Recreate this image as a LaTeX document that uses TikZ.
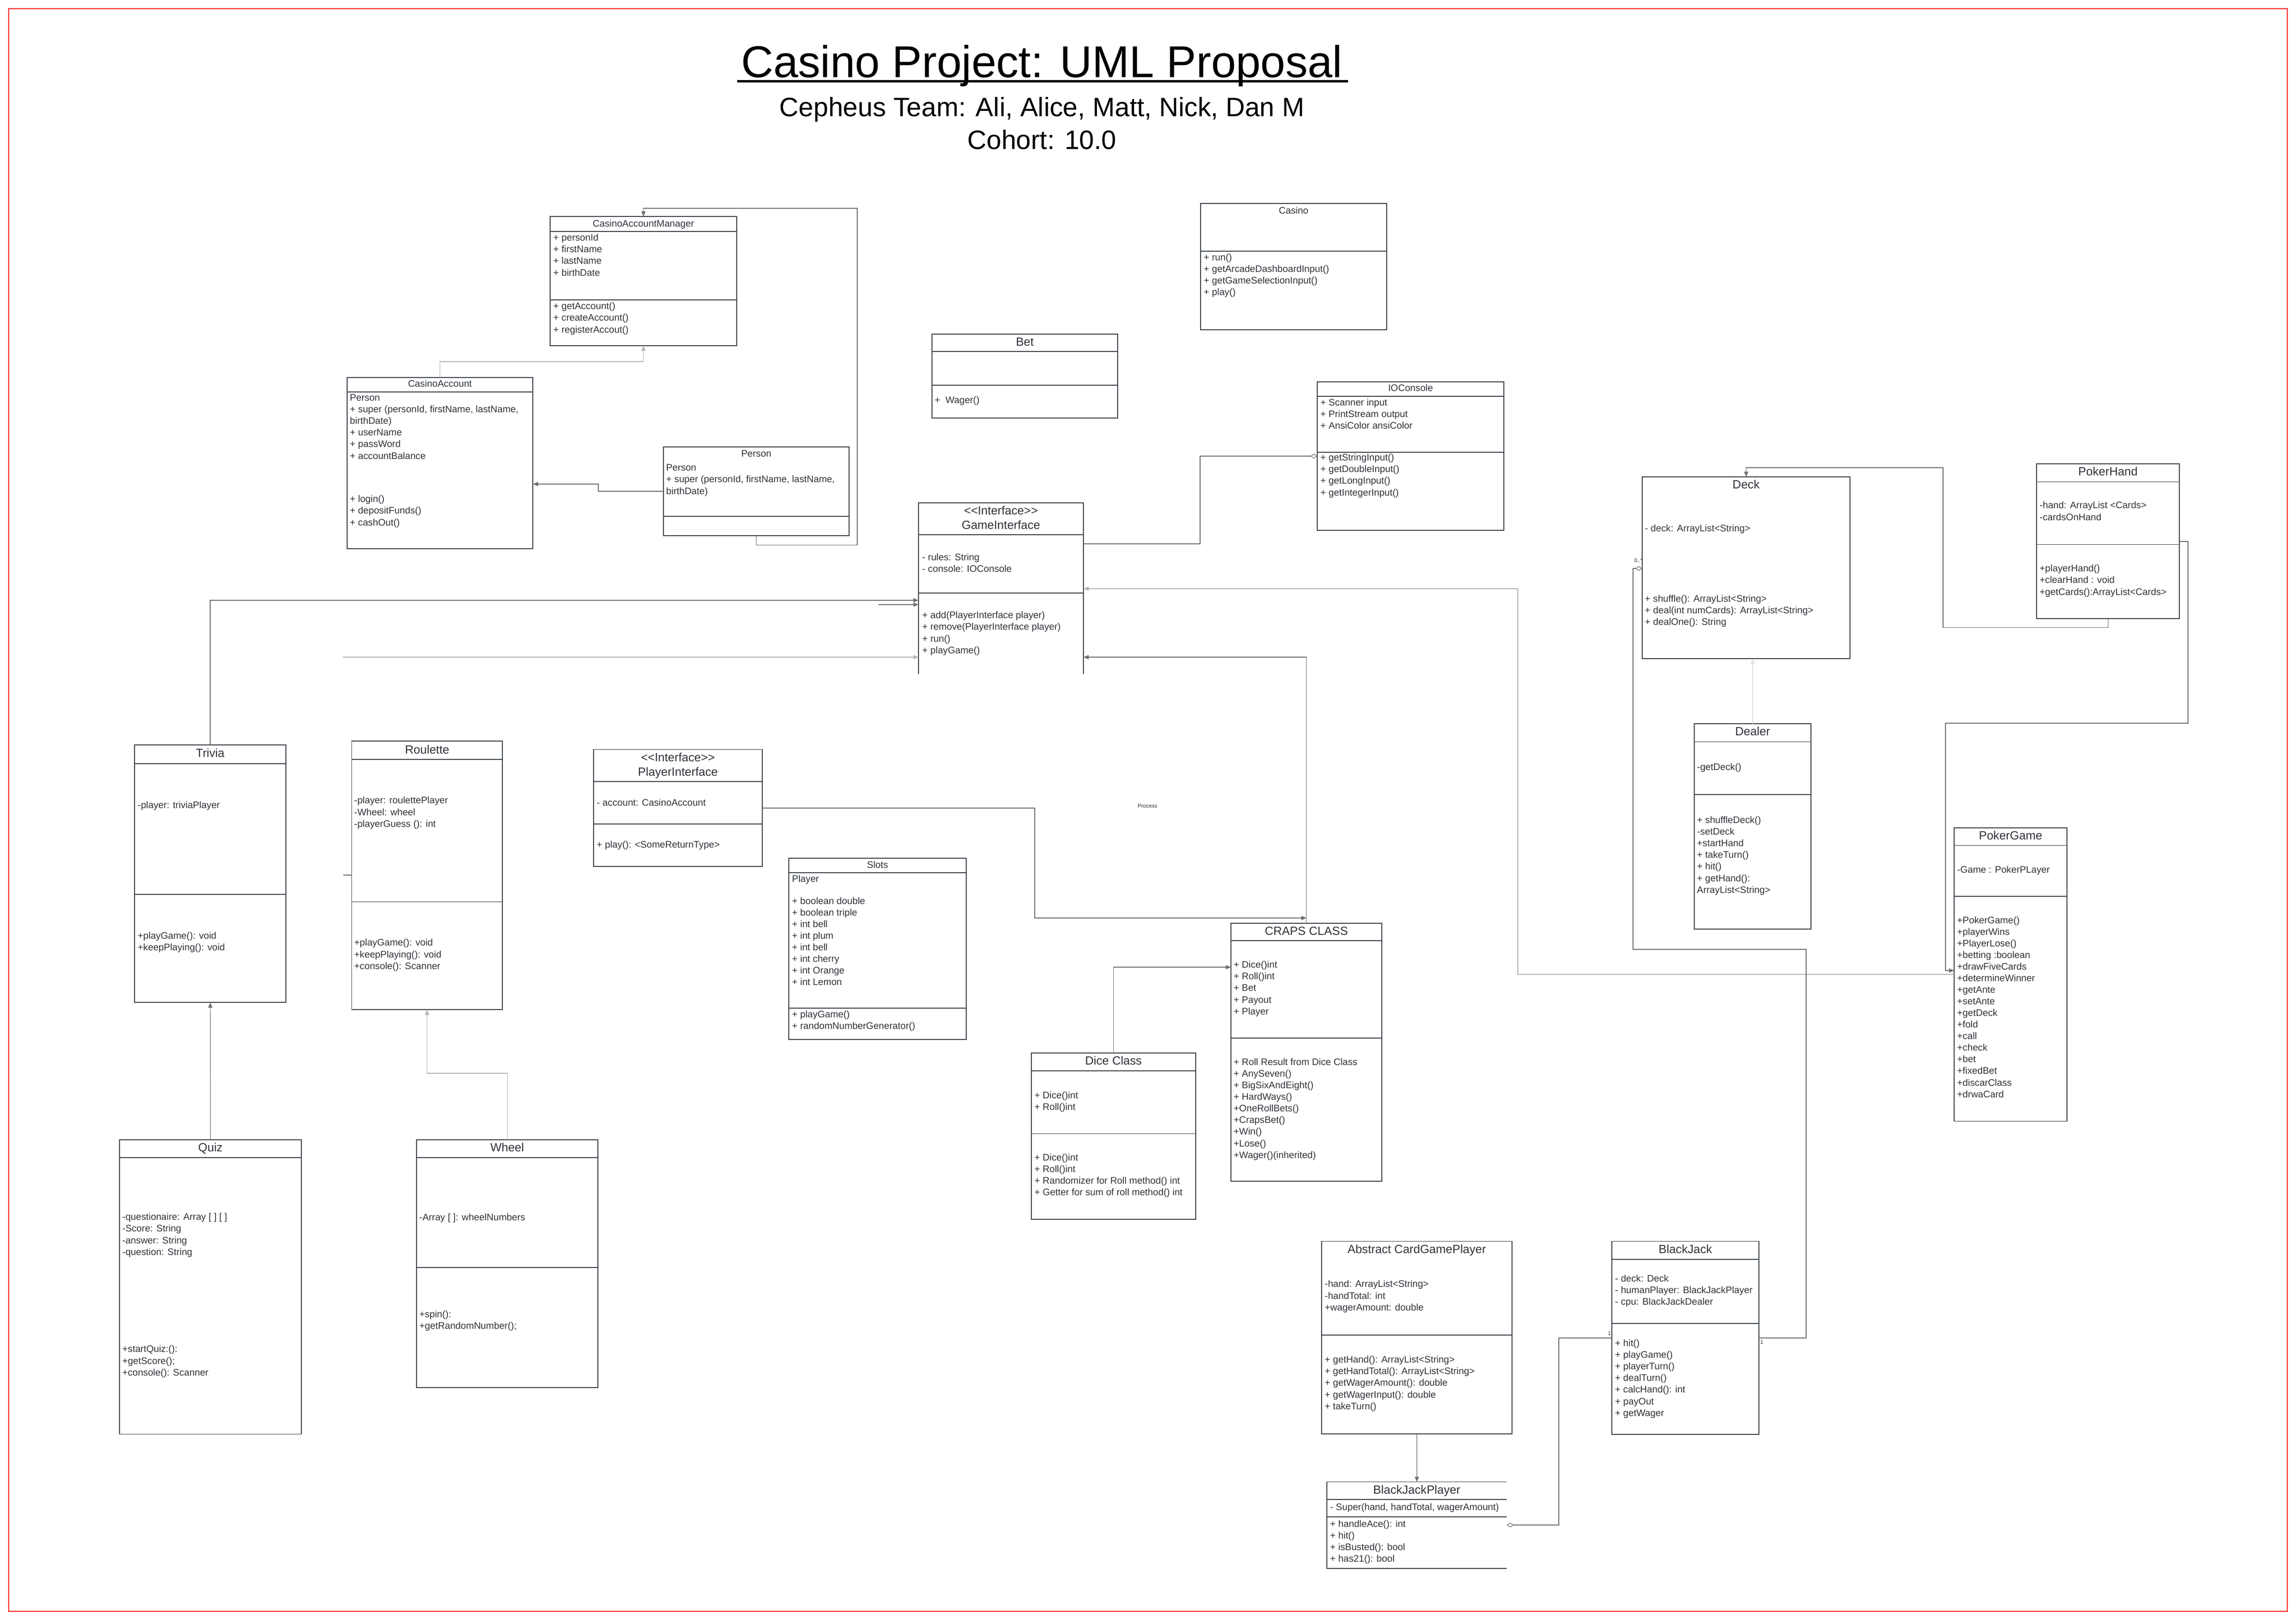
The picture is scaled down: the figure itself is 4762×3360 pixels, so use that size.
\documentclass[tikz,border=0pt]{standalone}
\usepackage{fontspec}
\setmainfont{Liberation Sans}
\usetikzlibrary{arrows.meta}
\definecolor{umlline}{HTML}{3A414A}
\definecolor{umltext}{HTML}{2E3238}
\definecolor{linkgray}{HTML}{6E6E6E}
\definecolor{linkpale}{HTML}{B4B4B4}
\definecolor{linkfaint}{HTML}{E2E2E2}

\begin{document}
\begin{tikzpicture}[x=0.01cm, y=-0.01cm]
    \tikzstyle{umlbox}=[draw=umlline, line width=0.5pt, anchor=north west, inner sep=0pt, outer sep=0pt]
    \tikzstyle{openbox}=[anchor=north west, inner sep=0pt, outer sep=0pt]
    \tikzstyle{umlsplit}=[draw=umlline, line width=0.5pt]
    \tikzstyle{clsname}=[anchor=base, inner sep=0pt, text=umltext, font=\fontsize{5.6}{6.83}\selectfont]
    \tikzstyle{bigname}=[anchor=base, inner sep=0pt, text=umltext, align=center, font=\fontsize{7}{8.5}\selectfont]
    \tikzstyle{members}=[anchor=base west, inner sep=0pt, text=umltext, align=left, font=\fontsize{5.6}{6.83}\selectfont]
    \tikzstyle{link}=[draw=linkgray, line width=0.35pt, -{Triangle[length=3pt,width=2.4pt]}]
    \tikzstyle{palelink}=[link, draw=linkpale]
    \tikzstyle{haslink}=[draw=linkgray, line width=0.35pt, -{Diamond[open,length=4pt,width=2.8pt]}]
    \tikzstyle{tag}=[inner sep=0pt, text=umltext, font=\fontsize{3.2}{3.8}\selectfont]
    \useasboundingbox (0,0) rectangle (4762,3360);
    \draw[red, line width=0.4pt] (18,18) rectangle (4744,3342);

    % Title
    \node[anchor=base, inner sep=0pt, font=\fontsize{26.3}{30}\selectfont] (maintitle) at (2161,160) {Casino Project: UML Proposal};
    \draw[line width=1.4pt] ([xshift=-2.3pt, yshift=-2.3pt]maintitle.base west) -- ([xshift=3pt, yshift=-2.3pt]maintitle.base east);
    \node[anchor=base, inner sep=0pt, font=\fontsize{15.7}{18}\selectfont] (team) at (2161,241) {Cepheus Team: Ali, Alice, Matt, Nick, Dan M};
    \node[anchor=base, inner sep=0pt, font=\fontsize{15.7}{18}\selectfont] (cohort) at (2161,309) {Cohort: 10.0};

    % Accounts (text nodes sit on the baseline of their last line)
    \node[umlbox, minimum width=3.87cm, minimum height=2.68cm] (cam) at (1141,449) {};
    \draw[umlsplit] (cam.west |- 0,480) -- (cam.east |- 0,480);
    \draw[umlsplit] (cam.west |- 0,622) -- (cam.east |- 0,622);
    \node[clsname] (cam-name) at (1334.5,470) {CasinoAccountManager};
    \node[members] (cam-fields) at (1147,572) {+ personId\\+ firstName\\+ lastName\\+ birthDate};
    \node[members] (cam-ops) at (1147,690) {+ getAccount()\\+ createAccount()\\+ registerAccout()};

    \node[umlbox, minimum width=3.85cm, minimum height=3.55cm] (ca) at (720,783) {};
    \draw[umlsplit] (ca.west |- 0,813) -- (ca.east |- 0,813);
    \node[clsname] (ca-name) at (912.5,802) {CasinoAccount};
    \node[members] (ca-fields) at (725,952) {Person\\+ super (personId, firstName, lastName,\\birthDate)\\+ userName\\+ passWord\\+ accountBalance};
    \node[members] (ca-ops) at (725,1090) {+ login()\\+ depositFunds()\\+ cashOut()};

    \node[umlbox, minimum width=3.85cm, minimum height=1.84cm] (person) at (1376,927) {};
    \draw[umlsplit] (person.west |- 0,1071) -- (person.east |- 0,1071);
    \node[clsname] (person-name) at (1568.5,947.5) {Person};
    \node[members] (person-fields) at (1381,1025) {Person\\+ super (personId, firstName, lastName,\\birthDate)};

    \node[umlbox, minimum width=3.86cm, minimum height=2.62cm] (casino) at (2490,422) {};
    \draw[umlsplit] (casino.west |- 0,521) -- (casino.east |- 0,521);
    \node[clsname] (casino-name) at (2683,443) {Casino};
    \node[members] (casino-ops) at (2496,612.6) {+ run()\\+ getArcadeDashboardInput()\\+ getGameSelectionInput()\\+ play()};

    \node[umlbox, minimum width=3.85cm, minimum height=1.74cm] (bet) at (1933,693) {};
    \draw[umlsplit] (bet.west |- 0,729) -- (bet.east |- 0,729);
    \draw[umlsplit] (bet.west |- 0,799) -- (bet.east |- 0,799);
    \node[bigname] (bet-name) at (2125.5,717) {Bet};
    \node[members] (bet-ops) at (1938,836.5) {+~~Wager()};

    \node[umlbox, minimum width=3.87cm, minimum height=3.08cm] (iocons) at (2732,792) {};
    \draw[umlsplit] (iocons.west |- 0,822) -- (iocons.east |- 0,822);
    \draw[umlsplit] (iocons.west |- 0,938) -- (iocons.east |- 0,938);
    \node[clsname] (iocons-name) at (2925.5,811) {IOConsole};
    \node[members] (iocons-fields) at (2738,889.6) {+ Scanner input\\+ PrintStream output\\+ AnsiColor ansiColor};
    \node[members] (iocons-ops) at (2738,1028) {+ getStringInput()\\+ getDoubleInput()\\+ getLongInput()\\+ getIntegerInput()};

    % Interfaces
    \node[openbox, minimum width=3.42cm, minimum height=3.55cm] (gameif) at (1905,1043) {};
    \draw[umlsplit] (gameif.south west) -- (gameif.north west) -- (gameif.north east) -- (gameif.south east);
    \draw[umlsplit] (gameif.west |- 0,1109) -- (gameif.east |- 0,1109);
    \draw[umlsplit] (gameif.west |- 0,1230) -- (gameif.east |- 0,1230);
    \node[bigname] (gameif-name) at (2076,1097) {<{}<Interface>{}>\\GameInterface};
    \node[members] (gameif-fields) at (1912,1186) {- rules: String\\- console: IOConsole};
    \node[members] (gameif-ops) at (1912,1355) {+ add(PlayerInterface player)\\+ remove(PlayerInterface player)\\+ run()\\+ playGame()};

    \node[umlbox, minimum width=3.5cm, minimum height=2.425cm] (playerif) at (1231,1554.5) {};
    \draw[umlsplit] (playerif.west |- 0,1621) -- (playerif.east |- 0,1621);
    \draw[umlsplit] (playerif.west |- 0,1709) -- (playerif.east |- 0,1709);
    \node[bigname] (playerif-name) at (1406,1609) {<{}<Interface>{}>\\PlayerInterface};
    \node[members] (playerif-fields) at (1237,1671) {- account: CasinoAccount};
    \node[members] (playerif-ops) at (1237,1758) {+ play(): <SomeReturnType>};

    % Games
    \node[umlbox, minimum width=3.14cm, minimum height=5.34cm] (trivia) at (279,1545) {};
    \draw[umlsplit] (trivia.west |- 0,1584) -- (trivia.east |- 0,1584);
    \draw[umlsplit] (trivia.west |- 0,1855) -- (trivia.east |- 0,1855);
    \node[bigname] (trivia-name) at (436,1570.6) {Trivia};
    \node[members] (trivia-fields) at (285,1676) {-player: triviaPlayer};
    \node[members] (trivia-ops) at (285,1971) {+playGame(): void\\+keepPlaying(): void};

    \node[umlbox, minimum width=3.125cm, minimum height=5.57cm] (roulette) at (729.5,1537) {};
    \draw[umlsplit] (roulette.west |- 0,1575) -- (roulette.east |- 0,1575);
    \draw[umlsplit] (roulette.west |- 0,1870.5) -- (roulette.east |- 0,1870.5);
    \node[bigname] (roulette-name) at (886,1563) {Roulette};
    \node[members] (roulette-fields) at (734,1715) {-player: roulettePlayer\\-Wheel: wheel\\-playerGuess (): int};
    \node[members] (roulette-ops) at (734,2010) {+playGame(): void\\+keepPlaying(): void\\+console(): Scanner};

    \node[umlbox, minimum width=3.68cm, minimum height=3.76cm] (slots) at (1636,1780) {};
    \draw[umlsplit] (slots.west |- 0,1810) -- (slots.east |- 0,1810);
    \draw[umlsplit] (slots.west |- 0,2091) -- (slots.east |- 0,2091);
    \node[clsname] (slots-name) at (1820,1800) {Slots};
    \node[members] (slots-fields) at (1642,2043.5) {Player\\[6.1pt]+ boolean double\\+ boolean triple\\+ int bell\\+ int plum\\+ int bell\\+ int cherry\\+ int Orange\\+ int Lemon};
    \node[members] (slots-ops) at (1642,2134) {+ playGame()\\+ randomNumberGenerator()};

    \node[umlbox, minimum width=3.77cm, minimum height=6.1cm] (quiz) at (248,2364) {};
    \draw[umlsplit] (quiz.west |- 0,2401) -- (quiz.east |- 0,2401);
    \node[bigname] (quiz-name) at (436.5,2388) {Quiz};
    \node[members] (quiz-fields) at (253,2603) {-questionaire: Array [ ] [ ]\\-Score: String\\-answer: String\\-question: String};
    \node[members] (quiz-ops) at (253,2853) {+startQuiz:():\\+getScore();\\+console(): Scanner};

    \node[umlbox, minimum width=3.76cm, minimum height=5.14cm] (wheel) at (864,2364) {};
    \draw[umlsplit] (wheel.west |- 0,2401) -- (wheel.east |- 0,2401);
    \draw[umlsplit] (wheel.west |- 0,2629) -- (wheel.east |- 0,2629);
    \node[bigname] (wheel-name) at (1052,2388) {Wheel};
    \node[members] (wheel-fields) at (869,2531) {-Array [ ]: wheelNumbers};
    \node[members] (wheel-ops) at (869,2756.6) {+spin():\\+getRandomNumber();};

    \node[umlbox, minimum width=3.13cm, minimum height=5.35cm] (craps) at (2553,1915) {};
    \draw[umlsplit] (craps.west |- 0,1951) -- (craps.east |- 0,1951);
    \draw[umlsplit] (craps.west |- 0,2153) -- (craps.east |- 0,2153);
    \node[bigname] (craps-name) at (2709.5,1939) {CRAPS CLASS};
    \node[members] (craps-fields) at (2558,2104) {+ Dice()int\\+ Roll()int\\+ Bet\\+ Payout\\+ Player};
    \node[members] (craps-ops) at (2558,2402) {+ Roll Result from Dice Class\\+ AnySeven()\\+ BigSixAndEight()\\+ HardWays()\\+OneRollBets()\\+CrapsBet()\\+Win()\\+Lose()\\+Wager()(inherited)};

    \node[umlbox, minimum width=3.41cm, minimum height=3.445cm] (dice) at (2139,2184) {};
    \draw[umlsplit] (dice.west |- 0,2221) -- (dice.east |- 0,2221);
    \draw[umlsplit] (dice.west |- 0,2351.5) -- (dice.east |- 0,2351.5);
    \node[bigname] (dice-name) at (2309.5,2208) {Dice Class};
    \node[members] (dice-fields) at (2145,2302) {+ Dice()int\\+ Roll()int};
    \node[members] (dice-ops) at (2145,2479.7) {+ Dice()int\\+ Roll()int\\+ Randomizer for Roll method() int\\+ Getter for sum of roll method() int};

    % Card games
    \node[umlbox, minimum width=3.95cm, minimum height=3.995cm] (cardplayer) at (2741,2574.5) {};
    \draw[umlsplit] (cardplayer.west |- 0,2769) -- (cardplayer.east |- 0,2769);
    \node[bigname] (cardplayer-name) at (2938.5,2599) {Abstract CardGamePlayer};
    \node[members] (cardplayer-fields) at (2747,2718) {-hand: ArrayList<String>\\-handTotal: int\\+wagerAmount: double};
    \node[members] (cardplayer-ops) at (2747,2923) {+ getHand(): ArrayList<String>\\+ getHandTotal(): ArrayList<String>\\+ getWagerAmount(): double\\+ getWagerInput(): double\\+ takeTurn()};

    \node[openbox, minimum width=3.73cm, minimum height=1.795cm] (bjplayer) at (2752,3073.5) {};
    \draw[umlsplit] (bjplayer.north east) -- (bjplayer.north west) -- (bjplayer.south west) -- (bjplayer.south east);
    \draw[umlsplit] (bjplayer.west |- 0,3110) -- (bjplayer.east |- 0,3110);
    \draw[umlsplit] (bjplayer.west |- 0,3146) -- (bjplayer.east |- 0,3146);
    \node[bigname] (bjplayer-name) at (2938.5,3098) {BlackJackPlayer};
    \node[members] (bjplayer-fields) at (2758,3132) {- Super(hand, handTotal, wagerAmount)};
    \node[members] (bjplayer-ops) at (2758,3239.7) {+ handleAce(): int\\+ hit()\\+ isBusted(): bool\\+ has21(): bool};

    \node[umlbox, minimum width=3.05cm, minimum height=4.005cm] (blackjack) at (3343,2574.5) {};
    \draw[umlsplit] (blackjack.west |- 0,2612) -- (blackjack.east |- 0,2612);
    \draw[umlsplit] (blackjack.west |- 0,2745) -- (blackjack.east |- 0,2745);
    \node[bigname] (blackjack-name) at (3495.5,2599) {BlackJack};
    \node[members] (blackjack-fields) at (3349,2706.5) {- deck: Deck\\- humanPlayer: BlackJackPlayer\\- cpu: BlackJackDealer};
    \node[members] (blackjack-ops) at (3349,2937) {+ hit()\\+ playGame()\\+ playerTurn()\\+ dealTurn()\\+ calcHand(): int\\+ payOut\\+ getWager};

    \node[umlbox, minimum width=4.31cm, minimum height=3.77cm] (deck) at (3406,989) {};
    \node[bigname] (deck-name) at (3621.5,1013.6) {Deck};
    \node[members] (deck-fields) at (3411,1102.5) {- deck: ArrayList<String>};
    \node[members] (deck-ops) at (3411,1296.5) {+ shuffle(): ArrayList<String>\\+ deal(int numCards): ArrayList<String>\\+ dealOne(): String};

    \node[umlbox, minimum width=2.96cm, minimum height=3.21cm] (pokerhand) at (4224,962) {};
    \draw[umlsplit] (pokerhand.west |- 0,999.5) -- (pokerhand.east |- 0,999.5);
    \draw[umlsplit] (pokerhand.west |- 0,1129.6) -- (pokerhand.east |- 0,1129.6);
    \node[bigname] (pokerhand-name) at (4372,986) {PokerHand};
    \node[members] (pokerhand-fields) at (4229.5,1079) {-hand: ArrayList <Cards>\\-cardsOnHand};
    \node[members] (pokerhand-ops) at (4229.5,1234) {+playerHand()\\+clearHand : void\\+getCards():ArrayList<Cards>};

    \node[umlbox, minimum width=2.42cm, minimum height=4.26cm] (dealer) at (3514,1501) {};
    \draw[umlsplit] (dealer.west |- 0,1538.4) -- (dealer.east |- 0,1538.4);
    \draw[umlsplit] (dealer.west |- 0,1648) -- (dealer.east |- 0,1648);
    \node[bigname] (dealer-name) at (3635,1525) {Dealer};
    \node[members] (dealer-fields) at (3519,1597) {-getDeck()};
    \node[members] (dealer-ops) at (3519,1852) {+ shuffleDeck()\\-setDeck\\+startHand\\+ takeTurn()\\+ hit()\\+ getHand():\\ArrayList<String>};

    \node[umlbox, minimum width=2.34cm, minimum height=6.08cm] (pokergame) at (4053,1717) {};
    \draw[umlsplit] (pokergame.west |- 0,1753.5) -- (pokergame.east |- 0,1753.5);
    \draw[umlsplit] (pokergame.west |- 0,1859) -- (pokergame.east |- 0,1859);
    \node[bigname] (pokergame-name) at (4170,1741) {PokerGame};
    \node[members] (pokergame-fields) at (4058.5,1810) {-Game : PokerPLayer};
    \node[members] (pokergame-ops) at (4058.5,2276) {+PokerGame()\\+playerWins\\+PlayerLose()\\+betting :boolean\\+drawFiveCards\\+determineWinner\\+getAnte\\+setAnte\\+getDeck\\+fold\\+call\\+check\\+bet\\+fixedBet\\+discarClass\\+drwaCard};

    % Connectors
    \draw[palelink] (ca.north) -- ++(0,-33) -| (cam.south);
    \draw[link] (person.west |- 0,1019) -- (1241,1019) |- (ca.east |- 0,1004);
    \draw[link] (person.south) -- ++(0,19) -| (1778,432) -| (cam.north);
    \draw[haslink] (gameif.east |- 0,1128) -| (2489,946) -- (iocons.west |- 0,946);
    \draw[link] (trivia.north) |- (gameif.west |- 0,1245);
    \coordinate (stub) at (1822,1254);
    \draw[link] (stub) -- (gameif.west |- stub);
    \coordinate (roulette-end) at (711,1363);
    \draw[palelink] (roulette-end) -- (gameif.west |- roulette-end);
    \draw[draw=linkgray, line width=0.35pt] (roulette.west |- 0,1815) -- ++(-18,0);
    \draw[link] (playerif.east |- 0,1676) -| (2146,1904) -- (craps.north |- 0,1904);
    \node[tag] (process) at (2380,1672) {Process};
    \draw[link] (craps.north) |- (gameif.east |- 0,1363);
    \draw[link] (dice.north) |- (craps.west |- 0,2006);
    \draw[link] (quiz.north) -- (trivia.south);
    \draw[palelink] (wheel.north) -- ++(0,-138) -| (roulette.south);
    \draw[palelink] (pokergame.west |- 0,2021) -| (3148,1221) -- (gameif.east |- 0,1221);
    \draw[link] (pokerhand.east |- 0,1123) -| (4538,1500) -| (4035,2013) -- (pokergame.west |- 0,2013);
    \draw[link] (pokerhand.south) -- ++(0,18) -| (4030,970) -| (deck.north);
    \draw[link, draw=linkfaint] (dealer.north) -- (dealer.north |- deck.south);
    \draw[haslink] (blackjack.east |- 0,2775) -| (3746,1969) -| (3387,1179) -- (deck.west |- 0,1179);
    \node[tag] (deck-mult) at (3398,1163) {0..*};
    \node[tag] (blackjack-mult) at (3654,2784) {1};
    \draw[haslink, {Diamond[open,length=4pt,width=2.8pt]}-] (bjplayer.east |- 0,3163) -| (3233,2775) -- (blackjack.west |- 0,2775);
    \node[tag] (bjplayer-mult) at (3338,2766) {1};
    \draw[link] (cardplayer.south) -- (bjplayer.north);
\end{tikzpicture}
\end{document}
